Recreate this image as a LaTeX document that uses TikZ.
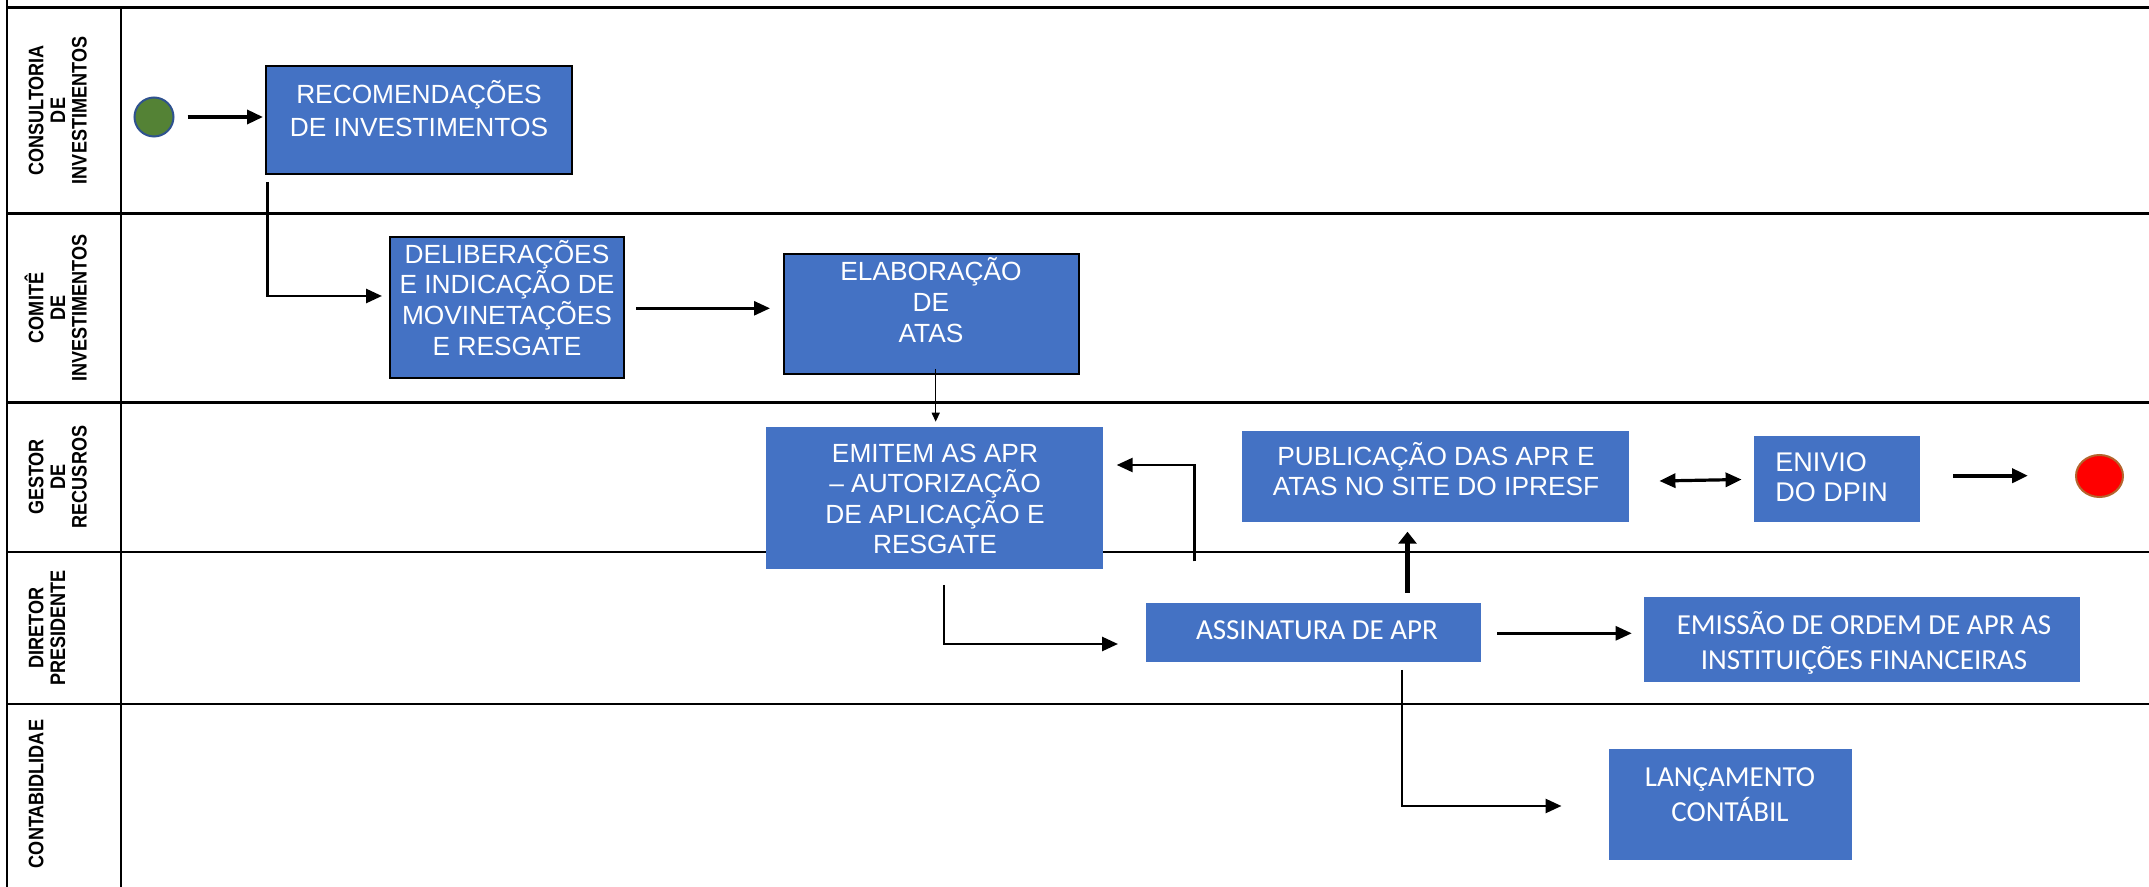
\documentclass[tikz,border=0pt]{standalone}
\usepackage{fontspec}
\setmainfont{Liberation Sans}
\newfontfamily\arial{Liberation Sans}
\newfontfamily\calib{Carlito}
\newfontfamily\lanef[FakeStretch=0.86]{Liberation Sans}
\usetikzlibrary{arrows.meta,calc,shapes.geometric}
\definecolor{boxblue}{HTML}{4472C4}
\definecolor{startgreen}{HTML}{548235}
\definecolor{startborder}{HTML}{2F528F}
\definecolor{endborder}{HTML}{B4642D}
\newcommand\arialA{\arial\fontsize{13.15}{15}\selectfont}
\newcommand\arialB{\arial\fontsize{13.5}{15}\selectfont}
\newcommand\calibA{\calib\fontsize{14.5}{17}\selectfont}
\newcommand\btext[6]{%
  \foreach \ln [count=\i] in {#6} {
    \node[txt, font={#5}] (#1-\i) at (#2, {#3+(\i-1)*#4}) {\ln};
  }%
}
\newcommand\lanetext[3]{%
  \foreach \ln [count=\i] in {#3} {
    \node[lanetxt] (#1-\i) at ({43.3+(\i-1)*21.7}, #2) {\ln};
  }%
}
\begin{document}
\begin{tikzpicture}[x=0.5pt,y=-0.5pt,
  laneline/.style={line width=1.1pt},
  lanetxt/.style={font=\lanef\bfseries\fontsize{10.5}{12}\selectfont, anchor=base, rotate=90, inner sep=0pt},
  bbox/.style={fill=boxblue, draw=black, line width=1.15pt, inner sep=0pt, outer sep=0pt},
  pbox/.style={fill=boxblue, inner sep=0pt, outer sep=0pt},
  txt/.style={text=white, inner sep=0pt, anchor=base},
  arr/.style={line width=1.35pt, -{Triangle[length=8pt,width=7pt]}},
  arrthin/.style={line width=0.7pt, -{Triangle[length=4.5pt,width=4pt]}},
  arrA/.style={line width=1.75pt, -{Triangle[length=8pt,width=7pt]}},
  arrG/.style={line width=2.5pt, -{Triangle[length=6pt,width=9pt]}},
  arrH/.style={line width=1.6pt, {Triangle[length=8pt,width=7pt]}-{Triangle[length=8pt,width=7pt]}},
  arrI/.style={line width=2.1pt, -{Triangle[length=8pt,width=7pt]}}
]
\path[use as bounding box] (0,0) rectangle (2149,887);

% swimlane frame
\draw[laneline] (7,0) -- (7,887);
\draw[laneline] (121,7.5) -- (121,887);
\draw[laneline] (7,7.5) -- (2149,7.5);
\draw[laneline] (7,213.5) -- (2149,213.5);
\draw[laneline] (7,402.5) -- (2149,402.5);
\draw[laneline] (7,552) -- (2149,552);
\draw[laneline] (7,704) -- (2149,704);

% lane labels
\lanetext{lc}{110.5}{CONSULTORIA,DE,INVESTIMENTOS}
\lanetext{lm}{308}{COMITÊ,DE,INVESTIMENTOS}
\lanetext{lg}{477}{GESTOR,DE,RECUSROS}
\lanetext{ld}{628}{DIRETOR,PRESIDENTE}
\lanetext{lt}{794}{CONTABIDLIDAE}

% start / end events
\node[circle, fill=startgreen, draw=startborder, line width=1pt, minimum size=19.5pt, inner sep=0pt] (start) at (154,117) {};
\node[ellipse, fill=red, draw=endborder, line width=1pt, minimum width=23.5pt, minimum height=21pt, inner sep=0pt] (stop) at (2099.5,476) {};

% boxes
\node[bbox, minimum width=153pt, minimum height=54pt] (rec) at (419,120) {};
\node[bbox, minimum width=117pt, minimum height=70.5pt] (del) at (507,307.5) {};
\node[bbox, minimum width=147.5pt, minimum height=60pt] (ela) at (931.5,314) {};
\node[pbox, minimum width=168.5pt, minimum height=71pt] (emi) at (934.5,498) {};
\node[pbox, minimum width=193.5pt, minimum height=45.5pt] (pub) at (1435.5,476.5) {};
\node[pbox, minimum width=83pt, minimum height=43pt] (env) at (1837,479) {};
\node[pbox, minimum width=167.5pt, minimum height=29.5pt] (ass) at (1313.5,632.5) {};
\node[pbox, minimum width=218pt, minimum height=42.5pt] (ems) at (1862,639.5) {};
\node[pbox, minimum width=121.5pt, minimum height=55.5pt] (lan) at (1730.5,804.5) {};

% box texts
\btext{rect}{419}{103.3}{33.4}{\arialA}{RECOMENDAÇÕES,DE INVESTIMENTOS}
\btext{delt}{507}{263.3}{30.6}{\arialA}{DELIBERAÇÕES,E INDICAÇÃO DE,MOVINETAÇÕES,E RESGATE}
\btext{elat}{931}{280.7}{31}{\arialA}{ELABORAÇÃO,DE,ATAS}
\btext{emit}{935}{462.7}{30.3}{\arialA}{EMITEM AS APR,– AUTORIZAÇÃO,DE APLICAÇÃO E,RESGATE}
\btext{pubt}{1436}{465.7}{30}{\arialA}{PUBLICAÇÃO DAS APR E,ATAS NO SITE DO IPRESF}
\node[txt, anchor=base west, font=\arialB] (envt-1) at (1775,471.7) {ENIVIO};
\node[txt, anchor=base west, font=\arialB] (envt-2) at (1775,501.7) {DO DPIN};
\btext{asst}{1317}{639.7}{0}{\calibA}{ASSINATURA DE APR}
\btext{emst}{1864}{634}{35}{\calibA}{EMISSÃO DE ORDEM DE APR AS,INSTITUIÇÕES FINANCEIRAS}
\btext{lant}{1730}{786.7}{35}{\calibA}{LANÇAMENTO,CONTÁBIL}

% connectors
\draw[arrA] ($(start.east)+(13,0)$) -- ($(start.east -| rec.west)+(-3,0)$);
\draw[arr] ($(rec.south west)+(1.5,8)$) |- ($(del.west)+(-8,-11.5)$);
\draw[arr] ($(del.east)+(12,0.8)$) -- ($(del.east -| ela.west)+(-14,0.8)$);
\draw[arrthin] ($(ela.south)+(4.2,-5)$) -- ($(emi.north)+(1.2,-5.3)$);
\draw[arr] ($(emi.south)+(9.5,16)$) |- ($(ass.west)+(-28,11.5)$);
\coordinate (fstart) at (1194.5,561.5);
\draw[arr] (fstart) |- ($(emi.east)+(13.7,-33)$);
\draw[arrG] ($(ass.north)+(94,-10.3)$) -- ($(pub.south)+(-28,9.7)$);
\draw[arrH] ($(pub.east)+(30.4,4.5)$) -- ($(env.west)+(-12.4,0.5)$);
\draw[arrI] ($(env.east)+(33,-3.3)$) -- ($(env.east -| stop.west)+(-47,-3.3)$);
\draw[arr] ($(ass.east)+(16,0.8)$) -- ($(ass.east -| ems.west)+(-12.3,0.8)$);
\draw[arr] ($(ass.south)+(88.5,8)$) |- ($(lan.west)+(-47.5,1.5)$);
\end{tikzpicture}
\end{document}
